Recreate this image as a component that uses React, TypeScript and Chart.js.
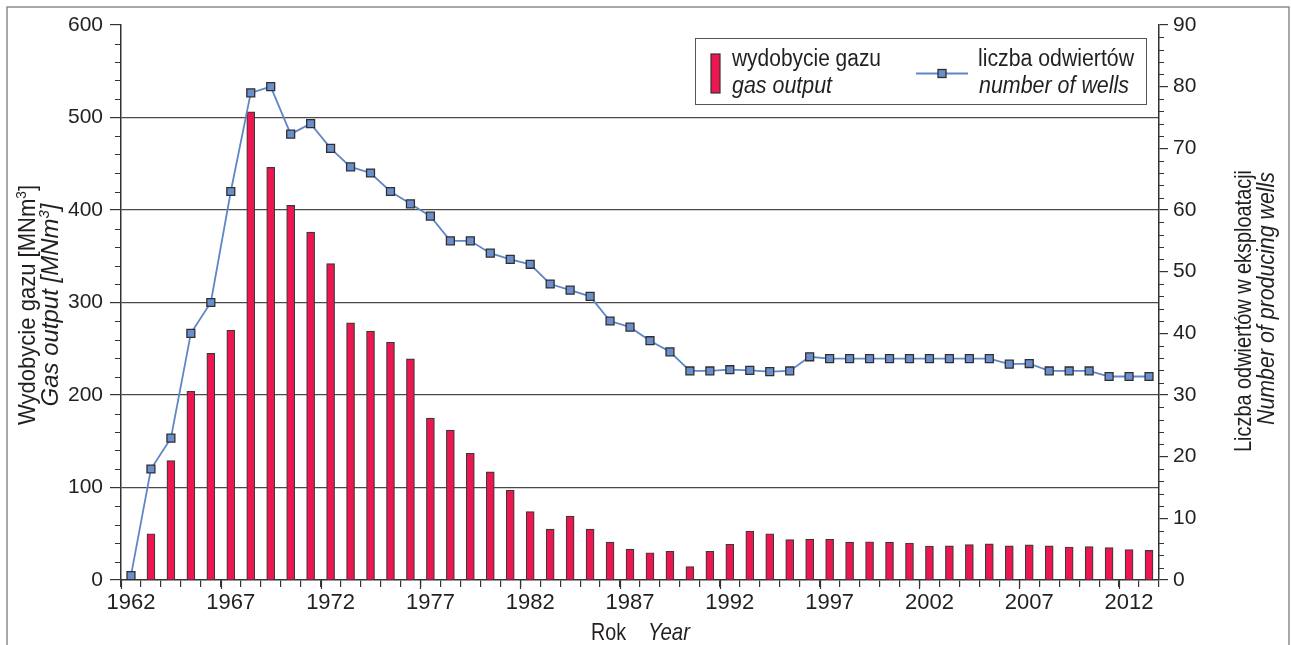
import React, { useEffect, useRef } from "react";
import { Chart, registerables } from "chart.js";

Chart.register(...registerables);

const years = [
  "1962", "1963", "1964", "1965", "1966", "1967", "1968", "1969", "1970", "1971",
  "1972", "1973", "1974", "1975", "1976", "1977", "1978", "1979", "1980", "1981",
  "1982", "1983", "1984", "1985", "1986", "1987", "1988", "1989", "1990", "1991",
  "1992", "1993", "1994", "1995", "1996", "1997", "1998", "1999", "2000", "2001",
  "2002", "2003", "2004", "2005", "2006", "2007", "2008", "2009", "2010", "2011",
  "2012", "2013",
];

const labeledYears = ["1962", "1967", "1972", "1977", "1982", "1987", "1992", "1997", "2002", "2007", "2012"];

const gasOutput = [
  null, 50, 129, 204, 245, 270, 506, 446, 405, 376,
  342, 278, 269, 257, 239, 175, 162, 137, 117, 97,
  74, 55, 69, 55, 41, 33.5, 29.5, 31, 14.5, 31,
  38.6, 53, 50, 43.6, 44.3, 44, 41, 41.4, 41, 40,
  36.8, 37, 38.2, 39, 37, 38, 37, 35.7, 36, 35,
  33, 32,
];

const wellsCount = [
  0.7, 18, 23, 40, 45, 63, 79, 80, 72.3, 74,
  70, 67, 66, 63, 61, 59, 55, 55, 53, 52,
  51.2, 48, 47, 46, 42, 41, 38.8, 37, 33.9, 33.9,
  34.1, 34, 33.8, 33.9, 36.2, 35.9, 35.9, 35.9, 35.9, 35.9,
  35.9, 35.9, 35.9, 35.9, 35, 35.1, 33.9, 33.9, 33.9, 33,
  33, 33,
];

const FONT = '"Liberation Sans", Arial, sans-serif';
const TEXT = "#231f20";
const AXIS = "#333333";
const BAR_FILL = "#ed1651";
const LINE_COLOR = "#5f87c7";
const POINT_FILL = "#6b8fcc";

const W = 1291;
const H = 645;

type Part = { t: string; sup?: boolean };

function drawFit(
  ctx: CanvasRenderingContext2D,
  parts: Part[],
  font: string,
  supFont: string,
  cx: number,
  cy: number,
  target: number
) {
  let total = 0;
  const widths = parts.map((p) => {
    ctx.font = p.sup ? supFont : font;
    const w = ctx.measureText(p.t).width;
    total += w;
    return w;
  });
  const f = Math.min(1, target / total);
  let x = cx - (total * f) / 2;
  parts.forEach((p, i) => {
    ctx.font = p.sup ? supFont : font;
    const w = widths[i] * f;
    ctx.fillText(p.t, x, p.sup ? cy - 9 : cy, w);
    x += w;
  });
}

function drawLeft(ctx: CanvasRenderingContext2D, text: string, font: string, x: number, y: number, target: number) {
  ctx.font = font;
  ctx.fillText(text, x, y, target);
}

const decorPlugin = {
  id: "decor",
  beforeDraw(chart: any) {
    const ctx = chart.ctx as CanvasRenderingContext2D;
    ctx.save();
    ctx.fillStyle = "#ffffff";
    ctx.fillRect(0, 0, chart.width, chart.height);
    ctx.strokeStyle = "#8c8c8c";
    ctx.lineWidth = 1.5;
    ctx.beginPath();
    ctx.moveTo(7, chart.height);
    ctx.lineTo(7, 7);
    ctx.lineTo(1289, 7);
    ctx.lineTo(1289, chart.height);
    ctx.stroke();
    ctx.restore();
  },
  afterDraw(chart: any) {
    const ctx = chart.ctx as CanvasRenderingContext2D;
    const area = chart.chartArea;
    const yS = chart.scales.y;
    const y1S = chart.scales.y1;
    const xS = chart.scales.x;
    ctx.save();
    ctx.strokeStyle = AXIS;
    ctx.lineWidth = 1.2;
    ctx.beginPath();
    yS.ticks.forEach((t: any) => {
      if (t.value % 100 !== 0) {
        const py = Math.round(yS.getPixelForValue(t.value)) + 0.5;
        ctx.moveTo(area.left - 6, py);
        ctx.lineTo(area.left, py);
      }
    });
    y1S.ticks.forEach((t: any) => {
      if (t.value % 10 !== 0) {
        const py = Math.round(y1S.getPixelForValue(t.value)) + 0.5;
        ctx.moveTo(area.right, py);
        ctx.lineTo(area.right + 5, py);
      }
    });
    const half = (xS.getPixelForValue(1) - xS.getPixelForValue(0)) / 2;
    for (let i = 0; i < years.length; i++) {
      if (labeledYears.includes(years[i])) {
        const px = Math.round(xS.getPixelForValue(i) - half) + 0.5;
        ctx.moveTo(px, area.bottom);
        ctx.lineTo(px, area.bottom + 9);
      }
    }
    ctx.stroke();

    ctx.fillStyle = TEXT;
    ctx.textBaseline = "alphabetic";
    ctx.textAlign = "left";
    const reg = `24px ${FONT}`;
    const ita = `italic 24px ${FONT}`;
    const sup = `15px ${FONT}`;
    const supI = `italic 15px ${FONT}`;

    // axis titles (rotated)
    ctx.save();
    ctx.rotate(-Math.PI / 2);
    drawFit(ctx, [{ t: "Wydobycie gazu [MNm" }, { t: "3", sup: true }, { t: "]" }], reg, sup, -305, 35, 240);
    drawFit(ctx, [{ t: "Gas output [MNm" }, { t: "3", sup: true }, { t: "]" }], ita, supI, -305, 58, 215);
    drawFit(ctx, [{ t: "Liczba odwiertów w eksploatacji" }], reg, sup, -311, 1251, 282);
    drawFit(ctx, [{ t: "Number of producing wells" }], ita, supI, -298.5, 1274, 253);
    ctx.restore();

    // x title
    drawLeft(ctx, "Rok", reg, 591, 640, 35);
    drawLeft(ctx, "Year", ita, 648, 640, 42);

    // legend
    ctx.strokeStyle = "#555555";
    ctx.lineWidth = 1;
    ctx.strokeRect(695.5, 38.5, 451, 66);
    ctx.fillStyle = BAR_FILL;
    ctx.fillRect(711, 54, 9, 39);
    ctx.strokeStyle = AXIS;
    ctx.lineWidth = 1.2;
    ctx.strokeRect(711, 54, 9, 39);
    ctx.strokeStyle = LINE_COLOR;
    ctx.lineWidth = 1.8;
    ctx.beginPath();
    ctx.moveTo(916, 73.5);
    ctx.lineTo(968, 73.5);
    ctx.stroke();
    ctx.fillStyle = POINT_FILL;
    ctx.fillRect(938, 69.5, 8, 8);
    ctx.strokeStyle = "#2f2f2f";
    ctx.lineWidth = 1.3;
    ctx.strokeRect(938, 69.5, 8, 8);
    ctx.fillStyle = TEXT;
    drawLeft(ctx, "wydobycie gazu", `23px ${FONT}`, 732, 66, 149);
    drawLeft(ctx, "liczba odwiertów", `23px ${FONT}`, 978, 66, 156);
    drawLeft(ctx, "gas output", `italic 23px ${FONT}`, 732, 93, 100);
    drawLeft(ctx, "number of wells", `italic 23px ${FONT}`, 979, 93, 150);
    ctx.restore();
  },
};

export default function App() {
  const ref = useRef<HTMLCanvasElement | null>(null);
  useEffect(() => {
    if (!ref.current) return;
    Chart.defaults.font.family = FONT;
    const chart = new Chart(ref.current, {
      data: {
        labels: years,
        datasets: [
          {
            type: "line",
            label: "liczba odwiertów",
            data: wellsCount,
            yAxisID: "y1",
            borderColor: LINE_COLOR,
            borderWidth: 1.8,
            pointStyle: "rect",
            pointRadius: 5.6,
            pointBackgroundColor: POINT_FILL,
            pointBorderColor: "#2f2f2f",
            pointBorderWidth: 1.3,
            tension: 0,
            order: 1,
          } as any,
          {
            type: "bar",
            label: "wydobycie gazu",
            data: gasOutput,
            yAxisID: "y",
            backgroundColor: BAR_FILL,
            borderColor: "#3a3a3a",
            borderWidth: 1.2,
            barThickness: 8,
            order: 2,
          } as any,
        ],
      },
      options: {
        responsive: false,
        animation: false,
        events: [],
        layout: { padding: { top: 25, left: 0, right: 0, bottom: 0 } },
        plugins: { legend: { display: false }, tooltip: { enabled: false } },
        scales: {
          x: {
            type: "category",
            offset: true,
            afterFit: (s: any) => {
              s.height = 65;
            },
            grid: {
              offset: true,
              drawOnChartArea: false,
              drawTicks: true,
              tickLength: 7,
              color: AXIS,
              tickColor: AXIS,
              lineWidth: 1.2,
            },
            border: { display: true, color: AXIS, width: 1.5 },
            ticks: {
              autoSkip: false,
              maxRotation: 0,
              minRotation: 0,
              color: TEXT,
              padding: 3,
              font: { size: 22, family: FONT },
              callback: function (this: any, _v: any, i: number) {
                const y = years[i];
                return labeledYears.includes(y) ? y : "";
              },
            },
          },
          y: {
            type: "linear",
            position: "left",
            min: 0,
            max: 600,
            afterFit: (s: any) => {
              s.width = 121;
            },
            grid: {
              drawTicks: true,
              tickLength: 11,
              lineWidth: 1.2,
              color: (c: any) => {
                const v = c.tick && c.tick.value;
                return v % 100 === 0 && v !== 0 && v !== 600 ? "#4a4a4a" : "rgba(0,0,0,0)";
              },
              tickColor: (c: any) => {
                const v = c.tick && c.tick.value;
                return v % 100 === 0 ? AXIS : "rgba(0,0,0,0)";
              },
            },
            border: { display: true, color: AXIS, width: 1.5 },
            ticks: {
              stepSize: 20,
              autoSkip: false,
              color: TEXT,
              padding: 7,
              font: { size: 21, family: FONT },
              callback: (v: any) => (Number(v) % 100 === 0 ? String(v) : ""),
            },
          },
          y1: {
            type: "linear",
            position: "right",
            min: 0,
            max: 90,
            afterFit: (s: any) => {
              s.width = W - 1159;
            },
            grid: {
              drawOnChartArea: false,
              drawTicks: true,
              tickLength: 9,
              lineWidth: 1.2,
              tickColor: (c: any) => {
                const v = c.tick && c.tick.value;
                return v % 10 === 0 ? AXIS : "rgba(0,0,0,0)";
              },
            },
            border: { display: true, color: AXIS, width: 1.5 },
            ticks: {
              stepSize: 2,
              autoSkip: false,
              color: TEXT,
              padding: 5,
              font: { size: 21, family: FONT },
              callback: (v: any) => (Number(v) % 10 === 0 ? String(v) : ""),
            },
          },
        },
      },
      plugins: [decorPlugin],
    } as any);
    return () => chart.destroy();
  }, []);

  return (
    <div style={{ position: "fixed", left: 0, top: 0, width: W, height: H, background: "#fff" }}>
      <canvas ref={ref} width={W} height={H} style={{ display: "block", width: W, height: H }} />
    </div>
  );
}
